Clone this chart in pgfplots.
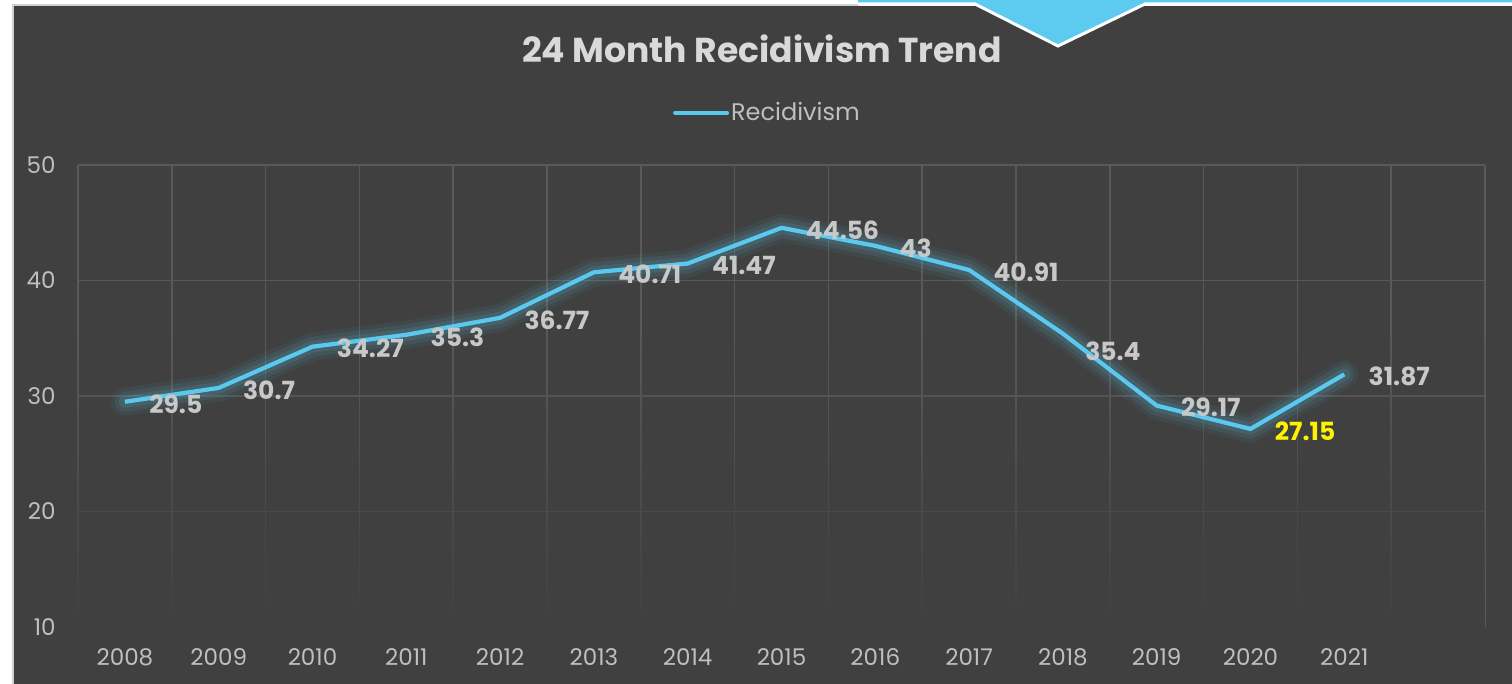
\documentclass[border=0pt]{standalone}
\usepackage{pgfplots}
\pgfplotsset{compat=1.18}
\usepackage{fontspec}
\setmainfont{Poppins}
\usetikzlibrary{fadings}
\definecolor{bg}{HTML}{404040}
\definecolor{gridc}{HTML}{595959}
\definecolor{linec}{HTML}{5BC8EF}
\definecolor{tabc}{HTML}{5DCBF0}
\definecolor{labelc}{HTML}{C8C8C8}
\definecolor{tickc}{HTML}{BFBFBF}
\definecolor{titlec}{HTML}{D9D9D9}
\definecolor{bordc}{HTML}{D0D0D0}
\begin{document}
\begin{tikzpicture}
\begin{scope}[x=0.5pt,y=0.5pt]
\useasboundingbox (0,0) rectangle (1512,684);
\fill[white] (0,0) rectangle (1512,684);
\fill[bg] (13,0) rectangle (1512,678);
\draw[bordc, line width=1pt] (12.5,0) -- (12.5,678.5) -- (860,678.5);
\fill[tabc] (858,684) -- (858,680) -- (975,680) -- (1058,638) -- (1145,680) -- (1512,680) -- (1512,684) -- cycle;
\draw[white, line width=1.5pt] (858,680) -- (975,680) -- (1058,638) -- (1145,680) -- (1512,680);
\node[font=\bfseries\fontsize{17.3}{20}\selectfont, text=titlec] at (762,635) {24 Month Recidivism Trend};
\end{scope}
\begin{axis}[
  at={(39pt,28.5pt)}, anchor=south west,
  scale only axis, width=703.5pt, height=231pt,
  xmin=-0.5, xmax=14.5, ymin=10, ymax=50,
  xtick={0,...,13},
  xticklabels={2008,2009,2010,2011,2012,2013,2014,2015,2016,2017,2018,2019,2020,2021},
  ytick={10,20,30,40,50},
  minor xtick={-0.5,0.5,...,14.5},
  xminorgrids=true, xmajorgrids=false, ymajorgrids=true,
  major tick length=0pt, minor tick length=0pt,
  axis line style={draw=none},
  major grid style={draw=gridc, line width=0.75pt},
  minor grid style={draw=gridc, line width=0.75pt},
  /pgf/number format/assume math mode=true,
  tick label style={text=tickc, font=\fontsize{11.5}{14}\selectfont, inner sep=0pt},
  xticklabel style={anchor=center, yshift=-15pt},
  yticklabel style={anchor=east, xshift=-11pt},
  legend style={at={(0.49,1.1126)}, anchor=center, draw=none, fill=none, text=tickc,
    font=\fontsize{12}{14}\selectfont, nodes={inner sep=1pt}},
  legend image code/.code={\draw[linec, line width=2pt, line cap=round] (0pt,0pt) -- (26pt,0pt);},
  clip=false,
]
\fill[bg, path fading=north] (axis cs:-0.52,9.5) rectangle (axis cs:14.52,35);
\addplot[forget plot, draw=linec, opacity=0.06, line width=14pt, line join=round, line cap=round] coordinates {
(0,29.5) (1,30.7) (2,34.27) (3,35.3) (4,36.77) (5,40.71) (6,41.47) (7,44.56) (8,43) (9,40.91) (10,35.4) (11,29.17) (12,27.15) (13,31.87)};
\addplot[forget plot, draw=linec, opacity=0.09, line width=10pt, line join=round, line cap=round] coordinates {
(0,29.5) (1,30.7) (2,34.27) (3,35.3) (4,36.77) (5,40.71) (6,41.47) (7,44.56) (8,43) (9,40.91) (10,35.4) (11,29.17) (12,27.15) (13,31.87)};
\addplot[forget plot, draw=linec, opacity=0.12, line width=6pt, line join=round, line cap=round] coordinates {
(0,29.5) (1,30.7) (2,34.27) (3,35.3) (4,36.77) (5,40.71) (6,41.47) (7,44.56) (8,43) (9,40.91) (10,35.4) (11,29.17) (12,27.15) (13,31.87)};
\addplot[draw=linec, line width=2.1pt, line join=round, mark=none] coordinates {
(0,29.5) (1,30.7) (2,34.27) (3,35.3) (4,36.77) (5,40.71) (6,41.47) (7,44.56) (8,43) (9,40.91) (10,35.4) (11,29.17) (12,27.15) (13,31.87)};
\addlegendentry{Recidivism}
\addplot[forget plot, draw=none, mark=none, point meta=explicit symbolic, nodes near coords,
  every node near coord/.append style={anchor=west, xshift=12pt, yshift=-1pt, inner sep=0pt,
    font=\bfseries\fontsize{12.5}{14}\selectfont, text=labelc}] coordinates {
(0,29.5)[29.5] (1,30.7)[30.7] (2,34.27)[34.27] (3,35.3)[35.3] (4,36.77)[36.77] (5,40.71)[40.71] (6,41.47)[41.47] (7,44.56)[44.56] (8,43)[43] (9,40.91)[40.91] (11,29.17)[29.17] (13,31.87)[31.87]};
\addplot[forget plot, draw=none, mark=none, point meta=explicit symbolic, nodes near coords,
  every node near coord/.append style={anchor=west, xshift=11pt, yshift=-9pt, inner sep=0pt,
    font=\bfseries\fontsize{12.5}{14}\selectfont, text=labelc}] coordinates {
(10,35.4)[35.4]};
\addplot[forget plot, draw=none, mark=none, point meta=explicit symbolic, nodes near coords,
  every node near coord/.append style={anchor=west, xshift=12pt, yshift=-1pt, inner sep=0pt,
    font=\bfseries\fontsize{12.5}{14}\selectfont, text=yellow}] coordinates {
(12,27.15)[27.15]};
\end{axis}
\end{tikzpicture}
\end{document}
